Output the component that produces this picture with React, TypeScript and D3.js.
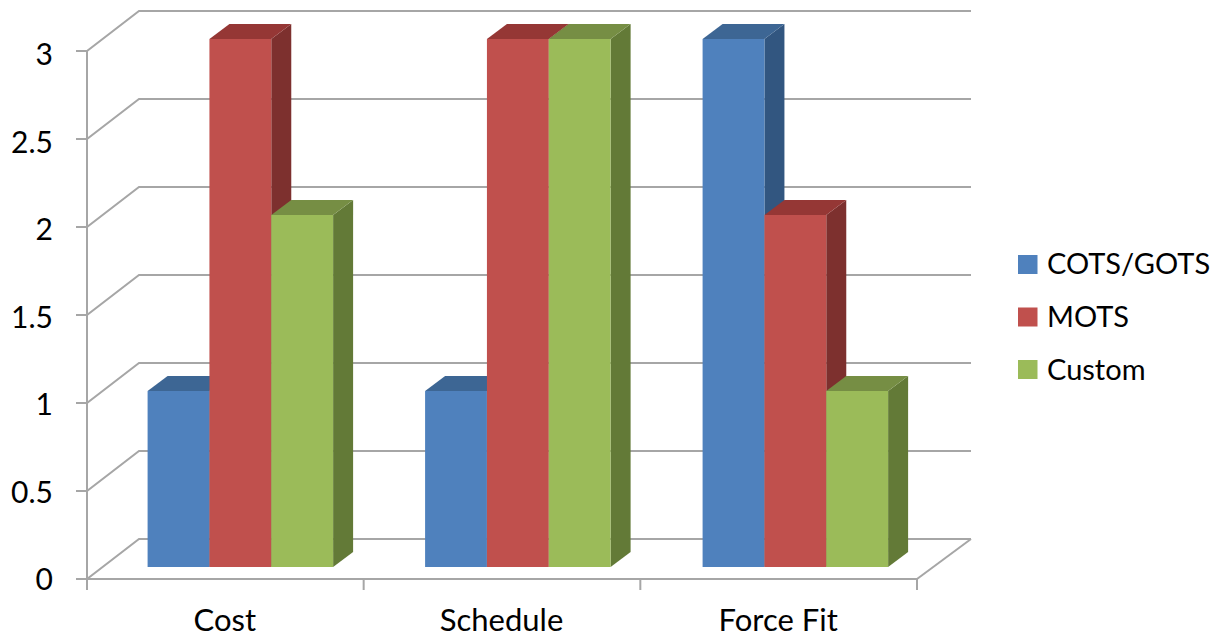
import React from "react";
import * as d3 from "d3";

const categories = ["Cost", "Schedule", "Force Fit"];
const seriesNames = ["COTS/GOTS", "MOTS", "Custom"];
const cotsValues = [1, 1, 3];
const motsValues = [3, 3, 2];
const customValues = [2, 3, 1];
const yTicks = [0, 0.5, 1, 1.5, 2, 2.5, 3];
const frontColors = ["#4f81bd", "#c0504d", "#9bbb59"];
const topColors = ["#3d6694", "#953735", "#768e44"];
const sideColors = ["#325680", "#7d302e", "#637a37"];

const FONT = "Lato, 'Open Sans', sans-serif";
const GRID = "#a6a6a6";
const seriesValues = [cotsValues, motsValues, customValues];

// Frame of the 3D plot: front plane, then the shift to the back wall and the bar depth.
const frontLeft = 87;
const frontRight = 917;
const yZero = 579;
const yTop = 51;
const wallDx = 52;
const wallDy = -40;
const barDx = 20;
const barDy = -15;
const barShiftX = 16;
const barShiftY = -12;

const x = d3.scaleBand<string>().domain(categories).range([frontLeft - 1.4, frontRight + 1.1]).paddingInner(0.3315).paddingOuter(0.16575);
const xOuter = d3.scaleBand<string>().domain(categories).range([frontLeft, frontRight]);
const xSeries = d3.scaleBand<string>().domain(seriesNames).range([0, x.bandwidth()]);
const y = d3.scaleLinear().domain([0, 3]).range([yZero, yTop]);
const yLabel = d3.scaleLinear().domain([0, 3]).range([590, 65]);

const poly = d3.line<[number, number]>();

function Bar({ cat, ci, si }: { cat: string; ci: number; si: number }) {
  const x0 = x(cat)! + xSeries(seriesNames[si])! + barShiftX;
  const w = xSeries.bandwidth();
  const x1 = x0 + w;
  const yb = y(0) + barShiftY;
  const yt = y(seriesValues[si][ci]) + barShiftY;
  const top = poly([[x0, yt], [x0 + barDx, yt + barDy], [x1 + barDx, yt + barDy], [x1, yt]]) + "Z";
  const side = poly([[x1, yt], [x1 + barDx, yt + barDy], [x1 + barDx, yb + barDy], [x1, yb]]) + "Z";
  return (
    <g>
      <path d={side} fill={sideColors[si]} />
      <path d={top} fill={topColors[si]} />
      <rect x={x0} y={yt} width={w} height={yb - yt} fill={frontColors[si]} />
    </g>
  );
}

export default function App() {
  return (
    <svg width={1219} height={637} style={{ position: "absolute", left: 0, top: 0, display: "block", background: "#fff" }}>
      {/* Back wall and side wall gridlines */}
      {yTicks.map((t) => (
        <path
          key={t}
          d={poly([[frontLeft - 11, y(t)], [frontLeft, y(t)], [frontLeft + wallDx, y(t) + wallDy], [frontRight + wallDx + 2, y(t) + wallDy]])!}
          fill="none"
          stroke={GRID}
          strokeWidth={2}
        />
      ))}
      {/* Floor edge and axes */}
      <path d={poly([[frontRight, yZero], [frontRight + wallDx + 2, yZero + wallDy]])!} fill="none" stroke={GRID} strokeWidth={2} />
      <line x1={frontLeft} x2={frontLeft} y1={yTop} y2={yZero} stroke={GRID} strokeWidth={2} />
      <line x1={frontLeft} x2={frontRight} y1={yZero} y2={yZero} stroke={GRID} strokeWidth={2} />
      {[...categories.map((c) => xOuter(c)!), frontRight].map((px) => (
        <line key={px} x1={px} x2={px} y1={yZero} y2={yZero + 11} stroke={GRID} strokeWidth={2} />
      ))}

      {categories.map((c, ci) =>
        seriesNames.map((s, si) => <Bar key={c + s} cat={c} ci={ci} si={si} />)
      )}

      {yTicks.map((t) => (
        <text key={t} x={53} y={yLabel(t)} textAnchor="end" fontFamily={FONT} fontSize={30} fill="#000">
          {t}
        </text>
      ))}
      {categories.map((c) => (
        <text key={c} x={xOuter(c)! + xOuter.bandwidth() / 2 - 0.5} y={631} textAnchor="middle" fontFamily={FONT} fontSize={31} fill="#000">
          {c}
        </text>
      ))}

      {/* Legend */}
      {seriesNames.map((s, i) => (
        <g key={s}>
          <rect x={1018} y={255 + i * 52.5} width={19.5} height={19} fill={frontColors[i]} />
          <text x={1047} y={274 + i * 53} fontFamily={FONT} fontSize={29} fill="#000">
            {s}
          </text>
        </g>
      ))}
    </svg>
  );
}
